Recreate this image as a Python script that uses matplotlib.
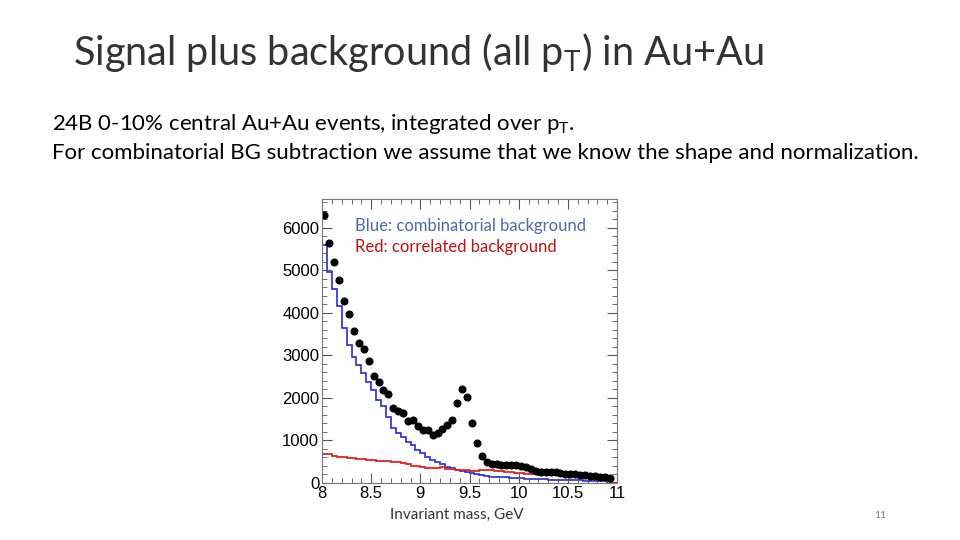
import numpy as np
import matplotlib.pyplot as plt
from matplotlib.ticker import MultipleLocator

# histogram binning: 60 bins of 50 MeV between 8 and 11 GeV
m_lo, m_hi, n_bins = 8.0, 11.0, 60

# signal + background (black points), counts per bin
data_counts = [6300, 5640, 5190, 4780, 4280, 3970, 3580, 3300, 3150, 2870,
               2520, 2385, 2190, 2095, 1760, 1700, 1640, 1450, 1480, 1340,
               1250, 1250, 1130, 1180, 1260, 1355, 1480, 1890, 2200, 2015,
               1420, 935, 635, 500, 450, 440, 430, 425, 420, 420,
               400, 370, 320, 290, 270, 265, 260, 255, 235, 220,
               215, 200, 190, 185, 170, 165, 150, 140, 125]

# combinatorial background (blue)
comb_bg = [5600, 4970, 4560, 4165, 3640, 3250, 2970, 2780, 2580, 2380,
           2190, 1950, 1800, 1560, 1290, 1170, 1090, 970, 890, 780,
           700, 610, 540, 500, 440, 385, 345, 305, 280, 265,
           228, 210, 180, 165, 150, 140, 135, 130, 125, 120,
           110, 105, 100, 95, 90, 85, 80, 75, 75, 70,
           65, 60, 60, 55, 50, 50, 45, 40, 35, 0]

# correlated background (red)
corr_bg = [680, 680, 630, 610, 600, 590, 580, 555, 570, 540,
           550, 525, 510, 520, 490, 500, 460, 440, 410, 400,
           380, 350, 345, 360, 365, 330, 320, 310, 305, 300,
           290, 280, 300, 305, 310, 280, 275, 265, 250, 240,
           230, 220, 205, 200, 195, 190, 190, 185, 180, 180,
           175, 170, 165, 160, 160, 155, 150, 140, 130, 0]

edges = np.linspace(m_lo, m_hi, n_bins + 1)
centers = 0.5 * (edges[:-1] + edges[1:])

fig = plt.figure(figsize=(9.6, 5.4), dpi=100)
fig.patch.set_facecolor('white')

slide_font = ['Lato', 'DejaVu Sans']
fig.text(73 / 960, 1 - 52 / 540, 'Signal plus background (all p$_\\mathregular{T}$) in Au+Au',
         fontsize=28.5, family=slide_font, fontweight='normal', color='#333333', va='center')
fig.text(52 / 960, 1 - 124 / 540, '24B 0-10% central Au+Au events, integrated over p$_\\mathregular{T}$.',
         fontsize=16, family=slide_font, color='black', va='center')
fig.text(52 / 960, 1 - 153 / 540,
         'For combinatorial BG subtraction we assume that we know the shape and normalization.',
         fontsize=16, family=slide_font, color='black', va='center')

ax = fig.add_axes([322 / 960, 1 - 483 / 540, (617 - 322) / 960, (483 - 199) / 540])
ax.stairs(comb_bg, edges, color='#2a2ad8', lw=1.2)
ax.stairs(corr_bg, edges, color='#e02424', lw=1.3)
ax.plot(centers[:len(data_counts)], data_counts, 'o', color='black', ms=4.8)

ax.set_xlim(m_lo, m_hi)
ax.set_ylim(0, 6680)

# ROOT-like frame: ticks inside, on all four sides
ax.xaxis.set_major_locator(MultipleLocator(0.5))
ax.xaxis.set_minor_locator(MultipleLocator(0.1))
ax.yaxis.set_major_locator(MultipleLocator(1000))
ax.yaxis.set_minor_locator(MultipleLocator(200))
ax.tick_params(which='both', direction='in', top=True, right=True, color='#555555')
ax.tick_params(which='major', length=7, width=0.8, labelsize=12, pad=2)
ax.tick_params(which='minor', length=3.5, width=0.6)
for lab in ax.get_xticklabels() + ax.get_yticklabels():
    lab.set_family(['Liberation Sans', 'DejaVu Sans'])
ax.set_xticks([8, 8.5, 9, 9.5, 10, 10.5, 11])
ax.set_xticklabels(['8', '8.5', '9', '9.5', '10', '10.5', '11'])
for s in ax.spines.values():
    s.set_color('#777777')
    s.set_linewidth(0.8)

ax.text(0.112, 0.905, 'Blue: combinatorial background', transform=ax.transAxes,
        fontsize=12, family=slide_font, color='#4a6aa8', va='center')
ax.text(0.112, 0.832, 'Red: correlated background', transform=ax.transAxes,
        fontsize=12, family=slide_font, color='#c01010', va='center')

fig.text(457 / 960, 1 - 515 / 540, 'Invariant mass, GeV', fontsize=11, family=slide_font,
         color='#333333', ha='center', va='center')
fig.text(880 / 960, 1 - 515 / 540, '11', fontsize=7.5, family=slide_font,
         color='#777777', ha='center', va='center')

fig.savefig('out.png', dpi=100)
